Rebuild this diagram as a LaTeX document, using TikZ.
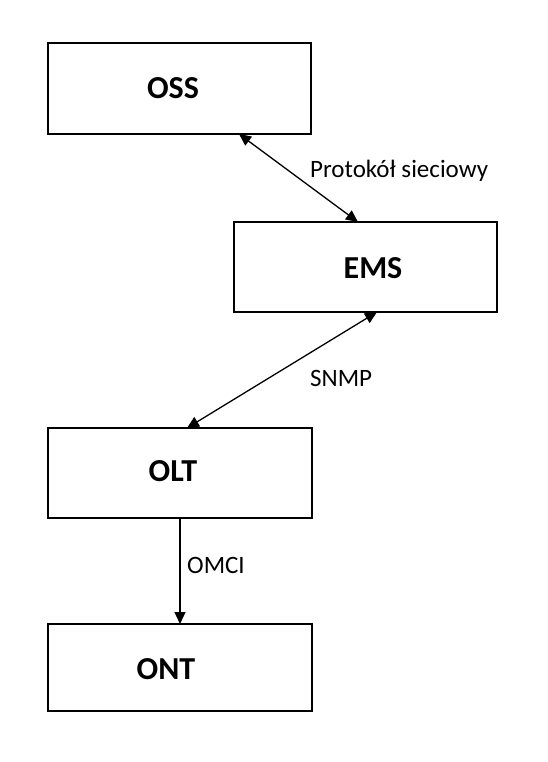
\documentclass[tikz,border=0pt]{standalone}
\usepackage{fontspec}
\setmainfont{Carlito}
\usetikzlibrary{arrows.meta,calc}
\begin{document}
\begin{tikzpicture}[x=1pt,y=-1pt,
  blk/.style={draw=black,line width=1.8pt,fill=white,inner sep=0pt,outer sep=0pt},
  title/.style={font=\fontsize{32}{36}\selectfont\bfseries,inner sep=0pt},
  lbl/.style={font=\fontsize{25}{29}\selectfont,inner sep=0pt},
  tip/.style={Triangle[length=12pt,width=11pt]},
  conn/.style={line width=1.3pt,{Triangle[length=12pt,width=11pt]}-{Triangle[length=12pt,width=11pt]}},
  oneway/.style={line width=1.3pt,-{Triangle[length=12pt,width=11pt]}}]
\useasboundingbox (0,0) rectangle (548,762);
\fill[white] (0,0) rectangle (548,762);
% boxes
\node[blk,minimum width=263pt,minimum height=91pt] (ossbox) at (179.5,88.5) {};
\node[blk,minimum width=263pt,minimum height=90pt] (emsbox) at (365.5,267) {};
\node[blk,minimum width=264pt,minimum height=90pt] (oltbox) at (180,473) {};
\node[blk,minimum width=264pt,minimum height=87pt] (ontbox) at (180,667.5) {};
\coordinate (ossB) at ($(ossbox.south west)+(191,0)$);
\coordinate (emsT) at ($(emsbox.north west)+(124,0)$);
\coordinate (emsB) at ($(emsbox.south west)+(143,0)$);
\coordinate (oltT) at ($(oltbox.north west)+(139,0)$);
\coordinate (oltB) at (oltbox.south);
\coordinate (ontT) at (ontbox.north);
\node[title] (oss) at (173,88) {OSS};
\node[title] (ems) at (373,268) {EMS};
\node[title] (olt) at (173,471) {OLT};
\node[title] (ont) at (166,669) {ONT};
\draw[conn] (ossB) -- (emsT);
\draw[conn] (emsB) -- (oltT);
\draw[oneway] (oltB) -- (ontT);
\node[lbl,anchor=west] (l1) at (310,171) {Protokół sieciowy};
\node[lbl,anchor=west] (l2) at (310,378) {SNMP};
\node[lbl,anchor=west] (l3) at (187,565) {OMCI};
\end{tikzpicture}
\end{document}
